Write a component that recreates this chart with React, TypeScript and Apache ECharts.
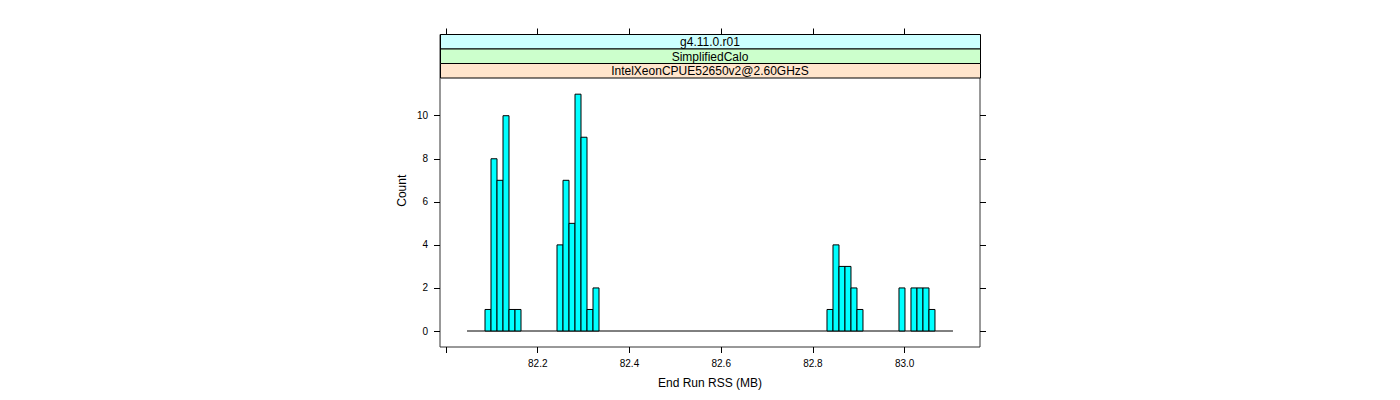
import React, { useEffect, useRef } from "react";
import * as echarts from "echarts";

const stripLabels = ["g4.11.0.r01", "SimplifiedCalo", "IntelXeonCPUE52650v2@2.60GHzS"];
const stripColors = ["#CCFFFF", "#CCFFCC", "#FFE5CC"];
const xTicks = [82.0, 82.2, 82.4, 82.6, 82.8, 83.0];
const xLabelTicks = [82.2, 82.4, 82.6, 82.8, 83.0];
const yTicks = [0, 2, 4, 6, 8, 10];
const xTitle = "End Run RSS (MB)";
const yTitle = "Count";
const xMin = 81.9869;
const xMax = 83.1642;
const yMin = -0.743;
const yMax = 13.772; // top of the strip block; the panel itself ends at ~11.75
// histogram: 81 equal-width bins starting at binStart
const binStart = 82.0458;
const binWidth = 0.01308;
const counts = [
  0, 0, 0, 1, 8, 7, 10, 1, 1, 0,
  0, 0, 0, 0, 0, 4, 7, 5, 11, 9,
  1, 2, 0, 0, 0, 0, 0, 0, 0, 0,
  0, 0, 0, 0, 0, 0, 0, 0, 0, 0,
  0, 0, 0, 0, 0, 0, 0, 0, 0, 0,
  0, 0, 0, 0, 0, 0, 0, 0, 0, 0,
  1, 4, 3, 3, 2, 1, 0, 0, 0, 0,
  0, 0, 2, 0, 2, 2, 2, 1, 0, 0,
  0,
];

const FONT = "'Liberation Sans', Arial, Helvetica, sans-serif";

export default function App() {
  const ref = useRef<HTMLDivElement>(null);
  useEffect(() => {
    if (!ref.current) return;
    const chart = echarts.init(ref.current, null, { renderer: "svg" });
    const bars = counts
      .map((c, i) => [binStart + i * binWidth, binStart + (i + 1) * binWidth, c])
      .filter((d) => d[2] > 0);
    const histEnd = binStart + counts.length * binWidth;

    const gLeft = 440, gRight = 980, panelTop = 78, stripTop = 34.5;
    const stripH = (panelTop - stripTop) / stripLabels.length;
    const graphics: any[] = [];
    stripLabels.forEach((lab, i) => {
      graphics.push({
        type: "rect",
        id: "strip" + i,
        shape: { x: gLeft + 0.5, y: stripTop + i * stripH, width: gRight - gLeft, height: stripH },
        style: { fill: stripColors[i], stroke: "#000", lineWidth: 1 },
        z: 5,
      });
      graphics.push({
        type: "text",
        id: "stripText" + i,
        x: (gLeft + gRight) / 2,
        y: stripTop + i * stripH + stripH / 2 + 0.5,
        style: { text: lab, fill: "#000", font: `12px ${FONT}`, align: "center", verticalAlign: "middle" },
        z: 6,
      });
    });

    const tickStyle = { color: "#000", width: 1 };
    chart.setOption({
      animation: false,
      textStyle: { fontFamily: FONT },
      grid: {
        left: gLeft, right: 1400 - gRight, top: stripTop, bottom: 400 - 347,
        show: true, borderColor: "#333", borderWidth: 1, backgroundColor: "transparent",
      },
      xAxis: [
        {
          type: "value", min: xMin, max: xMax, position: "bottom",
          axisLine: { show: false, onZero: false }, splitLine: { show: false },
          axisTick: { show: true, customValues: xTicks, length: 6, lineStyle: tickStyle },
          axisLabel: {
            customValues: xLabelTicks, formatter: (v: number) => v.toFixed(1),
            fontSize: 10, color: "#000", fontFamily: FONT, margin: 11,
          },
          name: xTitle, nameLocation: "middle", nameGap: 30,
          nameTextStyle: { fontSize: 12, color: "#000", fontFamily: FONT },
        },
        {
          type: "value", min: xMin, max: xMax, position: "top",
          axisLine: { show: false, onZero: false }, splitLine: { show: false },
          axisTick: { show: true, customValues: xTicks, length: 6, lineStyle: tickStyle },
          axisLabel: { show: false },
        },
      ],
      yAxis: [
        {
          type: "value", min: yMin, max: yMax, position: "left",
          axisLine: { show: false, onZero: false }, splitLine: { show: false },
          axisTick: { show: true, customValues: yTicks, length: 6, lineStyle: tickStyle },
          axisLabel: { customValues: yTicks, fontSize: 10, color: "#000", fontFamily: FONT, margin: 12 },
          name: yTitle, nameLocation: "middle", nameGap: 32, nameRotate: 90,
          nameTextStyle: { fontSize: 12, color: "#000", fontFamily: FONT },
        },
        {
          type: "value", min: yMin, max: yMax, position: "right",
          axisLine: { show: false, onZero: false }, splitLine: { show: false },
          axisTick: { show: true, customValues: yTicks, length: 6, lineStyle: tickStyle },
          axisLabel: { show: false },
        },
      ],
      graphic: graphics,
      series: [
        {
          type: "line",
          xAxisIndex: 0,
          yAxisIndex: 0,
          data: [[binStart, 0], [histEnd, 0]],
          symbol: "none",
          lineStyle: { color: "#000", width: 1 },
          silent: true,
          z: 1,
        },
        {
          type: "custom",
          xAxisIndex: 0,
          yAxisIndex: 0,
          data: bars,
          encode: { x: [0, 1], y: 2 },
          renderItem: (params: any, api: any) => {
            const p0 = api.coord([api.value(0), api.value(2)]);
            const p1 = api.coord([api.value(1), 0]);
            return {
              type: "rect",
              shape: { x: p0[0], y: p0[1], width: p1[0] - p0[0], height: p1[1] - p0[1] },
              style: { fill: "#00FFFF", stroke: "#000", lineWidth: 1 },
            };
          },
          z: 2,
        },
      ],
    });
    return () => chart.dispose();
  }, []);
  return <div ref={ref} style={{ position: "absolute", left: 0, top: 0, width: 1400, height: 400 }} />;
}
